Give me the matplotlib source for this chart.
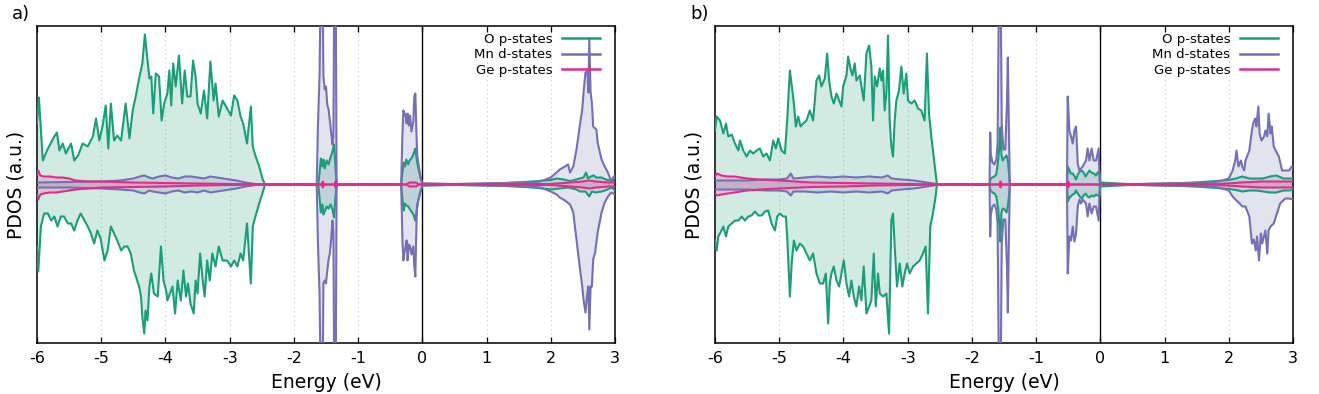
import matplotlib
matplotlib.use("Agg")
import matplotlib.pyplot as plt
from matplotlib.lines import Line2D

plt.rcParams['font.family'] = ['DejaVu Sans']
plt.rcParams['axes.unicode_minus'] = False

# ---------------- data (arbitrary units, spin up > 0, spin down < 0) ----------------
# Panel a
a_O_up_E = [-6.00,-5.97,-5.91,-5.83,-5.73,-5.69,-5.65,-5.60,-5.55,-5.47,-5.42,-5.36,-5.29,-5.21,-5.13,
            -5.08,-5.03,-4.98,-4.93,-4.89,-4.85,-4.80,-4.75,-4.69,-4.62,-4.56,-4.51,-4.46,-4.41,-4.36,
            -4.32,-4.29,-4.25,-4.22,-4.19,-4.15,-4.10,-4.06,-4.02,-3.97,-3.94,-3.91,-3.88,-3.84,-3.79,
            -3.74,-3.70,-3.66,-3.61,-3.57,-3.53,-3.50,-3.45,-3.40,-3.35,-3.30,-3.25,-3.22,-3.17,-3.11,
            -3.04,-2.98,-2.93,-2.88,-2.83,-2.79,-2.73,-2.67,-2.64,-2.60,-2.54,-2.49,-2.45,
            -1.62,-1.60,-1.58,-1.555,-1.54,-1.52,-1.49,-1.46,-1.43,-1.40,-1.375,-1.355,-1.335,
            -0.33,-0.31,-0.29,-0.27,-0.25,-0.22,-0.20,-0.17,-0.14,-0.11,-0.08,-0.05,-0.02,0.0,
            0.5,1.0,1.3,1.6,1.8,2.0,2.09,2.2,2.3,2.4,2.45,2.51,2.55,2.58,2.62,2.67,2.71,2.79,2.86,2.92,2.96,3.0]
a_O_up = [61,87,24,36,48,52,34,41,31,41,24,29,41,38,48,
          66,44,58,79,36,81,44,49,44,81,46,74,89,106,121,
          150,131,106,108,71,111,108,64,81,91,114,79,121,98,129,
          81,114,88,88,124,108,81,71,94,66,123,84,101,68,84,
          76,69,89,84,68,61,41,78,38,29,18,6,0,
          0,12,26,18,25,16,24,20,27,33,40,20,0,
          0,12,22,18,25,20,24,26,30,36,22,12,5,1,
          0.5,1,1.5,2.5,3.5,4.5,6,5,3.5,5,6,7,12,6,8,9,7,7,5,4,3,8]

a_O_dn_E = [-6.00,-5.98,-5.94,-5.89,-5.83,-5.78,-5.73,-5.68,-5.63,-5.58,-5.52,-5.47,-5.42,-5.37,-5.32,
            -5.26,-5.21,-5.16,-5.11,-5.06,-5.01,-4.95,-4.90,-4.85,-4.80,-4.75,-4.69,-4.64,-4.59,-4.54,
            -4.49,-4.44,-4.41,-4.38,-4.36,-4.33,-4.31,-4.28,-4.25,-4.22,-4.18,-4.12,-4.07,-4.03,-3.99,
            -3.97,-3.93,-3.89,-3.85,-3.81,-3.76,-3.72,-3.68,-3.65,-3.61,-3.56,-3.53,-3.50,-3.46,-3.42,
            -3.39,-3.35,-3.31,-3.27,-3.22,-3.17,-3.11,-3.04,-2.98,-2.93,-2.88,-2.83,-2.79,-2.73,-2.67,
            -2.64,-2.60,-2.54,-2.49,-2.45,
            -1.62,-1.60,-1.58,-1.555,-1.54,-1.52,-1.49,-1.46,-1.43,-1.40,-1.375,-1.355,-1.335,
            -0.33,-0.31,-0.29,-0.27,-0.25,-0.22,-0.20,-0.17,-0.14,-0.11,-0.08,-0.05,-0.02,0.0,
            0.5,1.0,1.3,1.6,1.8,2.0,2.14,2.27,2.4,2.45,2.54,2.6,2.64,2.7,2.8,2.88,2.95,3.0]
a_O_dn = [-62,-87,-42,-29,-29,-36,-32,-42,-32,-32,-39,-39,-46,-36,-29,
          -36,-42,-49,-59,-46,-54,-76,-66,-42,-49,-56,-66,-62,-62,-69,
          -86,-96,-102,-112,-132,-149,-126,-136,-102,-89,-109,-112,-62,-96,-106,
          -116,-109,-102,-129,-96,-116,-86,-112,-99,-119,-129,-96,-109,-69,-96,
          -112,-76,-96,-69,-82,-62,-76,-76,-82,-76,-82,-69,-76,-39,-99,
          -42,-32,-19,-9,0,
          0,-14,-28,-20,-30,-27,-22,-24,-20,-25,-33,-15,0,
          0,-14,-26,-19,-21,-22,-24,-27,-30,-36,-22,-12,-5,-1,
          -0.5,-1,-1.5,-2.5,-3.5,-5,-4,-3,-5,-7,-7,-12,-7,-8,-7,-5,-3,-6]

a_Mn_up_E = [-6.0,-5.5,-5.0,-4.7,-4.5,-4.4,-4.33,-4.25,-4.2,-4.1,-4.0,-3.9,-3.8,-3.7,-3.6,-3.5,-3.4,
             -3.3,-3.2,-3.1,-2.9,-2.75,-2.6,-2.5,
             -1.645,-1.625,-1.60,-1.58,-1.555,-1.54,-1.52,-1.50,-1.48,-1.46,-1.44,-1.42,-1.40,-1.385,
             -1.37,-1.35,-1.335,
             -0.33,-0.31,-0.295,-0.28,-0.26,-0.244,-0.23,-0.21,-0.19,-0.17,-0.14,-0.125,-0.109,-0.09,
             -0.078,-0.047,-0.02,0.0,
             0.5,1.0,1.3,1.67,1.84,2.0,2.09,2.14,2.22,2.27,2.30,2.35,2.40,2.45,2.49,2.51,2.54,2.57,
             2.585,2.60,2.62,2.64,2.66,2.71,2.73,2.79,2.84,2.89,2.94,2.98,3.0]
a_Mn_up = [2,2.5,3,4,6,8,9,7,6,8,9,7,6,8,8,7,6,
           8,7,6,4,2,0.5,0,
           0,60,110,220,220,108,95,98,80,75,64,52,40,48,
           220,220,0,
           0,50,74,72,68,61,71,59,69,53,63,88,91,48,
           28,15,5,1,
           0.3,1,1.5,2,3,7,12,15,18,20,12,18,35,58,75,92,112,113,
           92,145,92,82,58,55,42,25,18,12,3,8,8]

a_Mn_dn_E = [-6.0,-5.5,-5.0,-4.7,-4.5,-4.4,-4.33,-4.25,-4.2,-4.1,-4.0,-3.9,-3.8,-3.7,-3.6,-3.5,-3.4,
             -3.3,-3.2,-3.1,-2.9,-2.75,-2.6,-2.5,
             -1.645,-1.625,-1.60,-1.58,-1.555,-1.54,-1.52,-1.50,-1.48,-1.46,-1.44,-1.42,-1.40,-1.385,
             -1.37,-1.35,-1.335,
             -0.33,-0.31,-0.295,-0.28,-0.26,-0.244,-0.23,-0.21,-0.19,-0.17,-0.14,-0.125,-0.109,-0.09,
             -0.078,-0.047,-0.02,0.0,
             0.5,1.0,1.3,1.67,1.84,2.0,2.09,2.14,2.22,2.30,2.35,2.40,2.45,2.49,2.51,2.54,2.565,2.585,
             2.60,2.62,2.64,2.66,2.69,2.73,2.79,2.84,2.89,2.94,3.0]
a_Mn_dn = [-3,-3,-4,-5,-6,-8,-9,-6,-7,-8,-9,-7,-6,-8,-7,-8,-6,
           -8,-7,-6,-4,-2,-0.5,0,
           0,-60,-110,-220,-220,-99,-96,-99,-86,-75,-69,-55,-36,-48,
           -220,-220,0,
           0,-55,-76,-69,-62,-56,-76,-60,-62,-70,-62,-82,-92,-36,
           -19,-12,-5,-1,
           -0.3,-1,-1.5,-2,-3,-7,-10,-13,-16,-20,-28,-55,-82,-102,-115,-128,-111,-102,
           -145,-102,-102,-75,-68,-48,-28,-18,-12,-8,-10]

a_Ge_up_E = [-6.0,-5.98,-5.95,-5.9,-5.8,-5.7,-5.6,-5.5,-5.4,-5.2,-5.0,-4.5,-4.0,-3.5,-3.0,-2.5,
             -1.565,-1.55,-1.535,-1.365,-1.35,-1.335,-0.25,-0.2,-0.1,-0.05,
             2.0,2.3,2.5,2.6,2.7,2.9,3.0]
a_Ge_up = [10,14,9,8,8,7,7,6,4,3,3,2,1.5,1,0.5,0,
           0,3,0,0,3,0,0,2,2,0,
           0.5,2,3,4,3,2,2]
a_Ge_dn_E = [-6.0,-5.98,-5.95,-5.9,-5.8,-5.7,-5.6,-5.5,-5.4,-5.2,-5.0,-4.5,-4.0,-3.5,-3.0,-2.5,
             -1.565,-1.55,-1.535,-1.365,-1.35,-1.335,-0.25,-0.2,-0.1,-0.05,
             2.0,2.3,2.5,2.6,2.7,2.9,3.0]
a_Ge_dn = [-10,-15,-10,-9,-8,-8,-7,-6,-5,-4,-3,-2.5,-2,-1,-0.5,0,
           0,-3,0,0,-3,0,0,-2,-2,0,
           -0.5,-2,-3,-4,-3,-2,-2]

# Panel b
b_O_up_E = [-6.000,-5.974,-5.922,-5.870,-5.829,-5.793,-5.741,-5.689,-5.637,-5.611,-5.560,-5.508,-5.456,
            -5.404,-5.352,-5.301,-5.249,-5.197,-5.145,-5.093,-5.052,-5.016,-4.964,-4.912,-4.876,-4.834,
            -4.803,-4.772,-4.741,-4.705,-4.668,-4.627,-4.575,-4.523,-4.472,-4.420,-4.378,-4.342,-4.290,
            -4.254,-4.223,-4.187,-4.150,-4.109,-4.067,-4.031,-4.005,-3.953,-3.927,-3.891,-3.860,-3.824,
            -3.798,-3.746,-3.720,-3.684,-3.642,-3.601,-3.565,-3.539,-3.513,-3.477,-3.435,-3.409,-3.383,
            -3.358,-3.332,-3.306,-3.280,-3.254,-3.228,-3.202,-3.176,-3.135,-3.098,-3.062,-3.021,-2.995,
            -2.943,-2.891,-2.839,-2.788,-2.736,-2.700,-2.668,-2.632,-2.596,-2.565,-2.544,
            -1.725,-1.71,-1.68,-1.65,-1.62,-1.59,-1.57,-1.555,-1.54,-1.52,-1.49,-1.46,-1.44,-1.42,-1.41,
            -0.52,-0.505,-0.48,-0.46,-0.43,-0.40,-0.38,-0.35,-0.32,-0.29,-0.26,-0.23,-0.20,-0.17,-0.14,
            -0.10,-0.07,-0.04,-0.015,0.0,
            0.5,1.0,1.3,1.6,1.8,2.0,2.11,2.21,2.32,2.43,2.53,2.64,2.74,2.85,2.95,3.0]
b_O_up = [54,68,64,51,61,48,50,41,34,44,34,28,34,
          31,34,36,28,31,24,44,36,46,34,31,64,114,
          98,81,58,68,58,61,64,74,64,104,109,98,106,
          131,104,88,81,91,84,78,98,109,128,116,109,121,
          104,109,98,84,131,139,118,64,108,98,116,104,114,
          74,91,149,64,38,28,64,84,94,118,91,111,84,
          81,84,76,74,64,131,71,48,28,11,0,
          0,6,7,8,10,25,40,57,30,24,27,29,24,10,0,
          0,18,14,11,11,8,5,10,13,14,12,8,11,14,12,
          11,9,12,13,2,
          0.3,1,1.5,2.5,3.5,4.5,6,8,6,6,6,8,9,6,6,6]

b_O_dn_E = [-6.000,-5.974,-5.948,-5.922,-5.870,-5.829,-5.793,-5.741,-5.689,-5.637,-5.585,-5.534,-5.482,
            -5.430,-5.378,-5.326,-5.275,-5.223,-5.171,-5.119,-5.067,-5.031,-4.990,-4.938,-4.896,-4.876,
            -4.834,-4.803,-4.772,-4.731,-4.679,-4.627,-4.575,-4.523,-4.472,-4.420,-4.368,-4.316,-4.275,
            -4.238,-4.212,-4.187,-4.150,-4.109,-4.067,-4.031,-3.995,-3.953,-3.912,-3.876,-3.839,-3.798,
            -3.756,-3.720,-3.684,-3.642,-3.601,-3.565,-3.528,-3.497,-3.461,-3.435,-3.383,-3.332,-3.290,
            -3.254,-3.228,-3.202,-3.166,-3.124,-3.083,-3.047,-3.010,-2.969,-2.917,-2.865,-2.813,-2.762,
            -2.720,-2.684,-2.648,-2.606,-2.565,-2.544,
            -1.725,-1.71,-1.68,-1.65,-1.62,-1.59,-1.57,-1.555,-1.54,-1.52,-1.49,-1.46,-1.44,-1.42,-1.41,
            -0.52,-0.505,-0.48,-0.46,-0.43,-0.40,-0.38,-0.35,-0.32,-0.29,-0.26,-0.23,-0.20,-0.17,-0.14,
            -0.10,-0.07,-0.04,-0.015,0.0,
            0.5,1.0,1.3,1.6,1.8,2.0,2.11,2.21,2.32,2.43,2.53,2.64,2.74,2.85,2.95,3.0]
b_O_dn = [-56,-66,-52,-49,-42,-52,-42,-39,-36,-36,-32,-36,-32,
          -31,-27,-31,-31,-27,-26,-39,-46,-32,-29,-32,-32,-52,
          -112,-76,-56,-66,-59,-62,-69,-76,-69,-89,-99,-99,-89,
          -139,-99,-89,-82,-96,-102,-89,-76,-99,-112,-96,-112,-122,
          -102,-116,-82,-129,-122,-116,-69,-122,-89,-109,-112,-109,-149,
          -36,-29,-62,-102,-79,-102,-89,-79,-89,-82,-79,-76,-69,
          -62,-129,-42,-29,-12,0,
          0,-6,-8,-9,-12,-25,-42,-57,-28,-24,-25,-28,-22,-10,0,
          0,-17,-13,-12,-10,-9,-6,-9,-12,-14,-11,-9,-12,-13,-11,
          -12,-10,-11,-12,-2,
          -0.3,-1,-1.5,-2.5,-3.5,-4.5,-5.5,-7,-6,-6,-7,-8,-8,-6,-6,-5]

b_Mn_up_E = [-6.0,-5.8,-5.5,-5.2,-5.0,-4.88,-4.82,-4.78,-4.6,-4.4,-4.2,-4.0,-3.8,-3.6,-3.4,-3.31,-3.25,
             -3.1,-2.9,-2.75,-2.6,-2.5,
             -1.725,-1.715,-1.705,-1.68,-1.65,-1.62,-1.60,-1.575,-1.555,-1.535,-1.51,-1.48,-1.455,-1.44,
             -1.425,-1.41,
             -0.52,-0.508,-0.482,-0.456,-0.430,-0.404,-0.378,-0.352,-0.326,-0.275,-0.223,-0.197,-0.171,
             -0.135,-0.104,-0.067,-0.026,-0.010,
             0.5,1.0,1.3,1.54,1.85,2.0,2.06,2.10,2.12,2.15,2.19,2.21,2.24,2.26,2.32,2.36,2.38,2.41,2.43,
             2.46,2.48,2.51,2.55,2.57,2.60,2.62,2.65,2.67,2.70,2.73,2.78,2.83,2.88,2.94,2.98,3.0]
b_Mn_up = [4,4,4,5,5,6,11,6,7,8,7,8,7,8,7,9,6,
           5,4,2.5,1,0,
           0,52,30,22,20,25,40,220,220,60,35,35,80,127,
           60,0,
           0,88,54,48,41,54,58,21,14,18,24,36,24,
           36,24,24,36,0,
           0.3,1,1.5,1,3,6,14,24,34,18,24,18,14,24,34,54,61,66,58,
           78,51,44,48,54,48,71,51,58,38,34,28,14,14,14,18,16]

b_Mn_dn_E = [-6.0,-5.8,-5.5,-5.2,-5.0,-4.88,-4.82,-4.78,-4.6,-4.4,-4.2,-4.0,-3.8,-3.6,-3.4,-3.31,-3.25,
             -3.1,-2.9,-2.75,-2.6,-2.5,
             -1.725,-1.715,-1.705,-1.68,-1.65,-1.62,-1.60,-1.575,-1.555,-1.535,-1.51,-1.48,-1.455,-1.44,
             -1.425,-1.41,
             -0.52,-0.508,-0.482,-0.456,-0.430,-0.404,-0.378,-0.352,-0.326,-0.30,-0.275,-0.223,-0.197,
             -0.171,-0.135,-0.104,-0.067,-0.026,-0.010,
             0.5,1.0,1.3,1.54,1.85,2.0,2.06,2.12,2.17,2.21,2.26,2.32,2.36,2.39,2.42,2.44,2.47,2.50,2.52,
             2.57,2.60,2.62,2.65,2.70,2.75,2.80,2.88,2.94,3.0]
b_Mn_dn = [-5,-5,-5,-6,-6,-7,-11,-7,-7,-8,-7,-8,-7,-8,-7,-9,-6,
           -5,-4,-2.5,-1,0,
           0,-52,-30,-22,-20,-25,-40,-220,-220,-60,-35,-35,-80,-128,
           -60,0,
           0,-89,-52,-56,-42,-57,-49,-22,-15,-19,-15,-19,-32,
           -19,-29,-22,-22,-36,0,
           -0.3,-1,-1.5,-1,-3,-6,-12,-16,-19,-22,-22,-32,-59,-55,-66,-52,-76,-49,-59,
           -46,-69,-46,-42,-39,-29,-19,-14,-14,-15]

b_Ge_up_E = [-6.0,-5.97,-5.9,-5.8,-5.7,-5.6,-5.5,-5.3,-5.0,-4.5,-4.0,-3.5,-3.0,-2.5,
             -1.57,-1.555,-1.54,-0.52,-0.5,-0.48,1.8,2.2,2.5,2.8,3.0]
b_Ge_up = [8,11,9,8,8,7,6,5,4,2,1.5,1,0.5,0,
           0,3,0,0,3,0,0.3,2,3,3,3]
b_Ge_dn_E = [-6.0,-5.97,-5.9,-5.8,-5.7,-5.6,-5.5,-5.3,-5.0,-4.5,-4.0,-3.5,-3.0,-2.5,
             -1.57,-1.555,-1.54,-0.52,-0.5,-0.48,1.8,2.2,2.5,2.8,3.0]
b_Ge_dn = [-9,-11,-10,-9,-8,-7,-6,-5,-4,-2.5,-2,-1,-0.5,0,
           0,-3,0,0,-3,0,-0.3,-2,-3,-3,-3]

labels = ["O p-states", "Mn d-states", "Ge p-states"]
colors = ["#1b9e77", "#7570b3", "#e7298a"]
xticks = [-6, -5, -4, -3, -2, -1, 0, 1, 2, 3]

panels = [
    ("a)", [(a_O_up_E, a_O_up, a_O_dn_E, a_O_dn),
            (a_Mn_up_E, a_Mn_up, a_Mn_dn_E, a_Mn_dn),
            (a_Ge_up_E, a_Ge_up, a_Ge_dn_E, a_Ge_dn)]),
    ("b)", [(b_O_up_E, b_O_up, b_O_dn_E, b_O_dn),
            (b_Mn_up_E, b_Mn_up, b_Mn_dn_E, b_Mn_dn),
            (b_Ge_up_E, b_Ge_up, b_Ge_dn_E, b_Ge_dn)]),
]

W, H = 1319, 394
fig = plt.figure(figsize=(W / 100, H / 100), dpi=100)
ax_left_px = [37, 715]
for (tag, series), lx in zip(panels, ax_left_px):
    ax = fig.add_axes([lx / W, 1 - 343 / H, 578 / W, 317 / H])
    ax.set_xlim(-6, 3)
    ax.set_ylim(-158.5, 158.5)
    for x in xticks:
        if x not in (-6, 0, 3):
            ax.axvline(x, color="#c4c4c4", lw=0.8, ls=(0, (1, 3)), zorder=0)
    ax.axvline(0, color="black", lw=1.0, zorder=1)
    # fills
    for (eu, vu, ed, vd), c in zip(series, colors):
        ax.fill_between(eu, 0, vu, color=c, alpha=0.2, lw=0, zorder=2)
        ax.fill_between(ed, 0, vd, color=c, alpha=0.2, lw=0, zorder=2)
    # lines
    for i, ((eu, vu, ed, vd), c) in enumerate(zip(series, colors)):
        ax.plot(eu, vu, color=c, lw=1.5, zorder=3 + i)
        ax.plot(ed, vd, color=c, lw=1.5, zorder=3 + i)
    ax.set_xticks(xticks)
    ax.set_xticklabels([str(x) for x in xticks])
    ax.set_yticks([])
    ax.tick_params(axis="x", direction="in", top=True, length=4, width=0.9,
                   labelsize=11.5, pad=6)
    for s in ax.spines.values():
        s.set_linewidth(1.1)
    ax.set_xlabel("Energy (eV)", fontsize=13.5, labelpad=5)
    ax.set_ylabel("PDOS (a.u.)", fontsize=13.5, labelpad=8)
    handles = [Line2D([0], [0], color=c, lw=1.8) for c in colors]
    ax.legend(handles, labels, loc="upper right", markerfirst=False, frameon=False,
              fontsize=9.5, handlelength=2.9, handletextpad=0.7, labelspacing=0.2,
              borderpad=0.4, borderaxespad=0.0, bbox_to_anchor=(0.983, 0.996))
    fig.text((lx - 25) / W, 1 - 14 / H, tag, fontsize=13, ha="left", va="center")

fig.savefig("out.png", dpi=100)
